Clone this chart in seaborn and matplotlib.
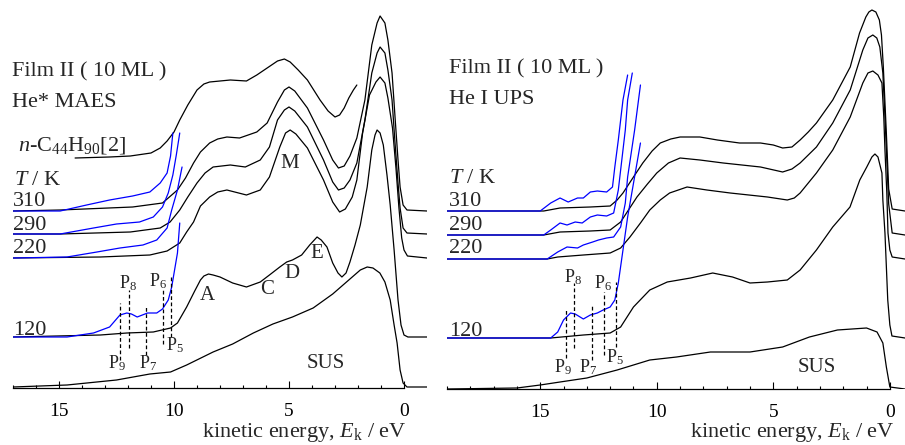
import matplotlib
matplotlib.use('Agg')
import matplotlib.pyplot as plt
from matplotlib.ticker import FixedLocator
import seaborn as sns
import pandas as pd

# ---------------- He* MAES (left panel) ----------------
# kinetic energy (eV) and intensity (arb. units, offset)
maes_c44_e = [14.3, 12.8, 11.9, 11.0, 10.6, 10.3, 10.0, 9.75, 9.4, 9.0, 8.7, 8.45, 7.55, 6.85, 6.4, 5.95, 5.5, 5.2, 4.95,
              4.6, 4.2, 3.65, 3.3, 3.0, 2.8, 2.6, 2.4, 2.2, 2.05]
maes_c44_i = [230, 231, 232, 235, 240, 247, 256, 268, 283, 298, 304, 306, 308, 307, 313, 320, 327, 329, 326,
              318, 308, 288, 277, 271, 273, 280, 290, 298, 303]

maes_310_e = [17.0, 14.95, 11.8, 10.5, 9.85, 9.5, 9.15, 8.85, 8.45, 8.1, 7.7, 7.15, 6.4, 5.95, 5.5, 5.2, 5.0, 4.75, 4.2,
              3.5, 3.1, 2.85, 2.6, 2.35, 2.05, 1.7, 1.4, 1.17, 1.04, 0.83, 0.7, 0.52, 0.39, 0.26, 0.17, 0.04, -0.13, -1.0]
maes_310_i = [177, 178, 181, 185, 198, 210, 225, 236, 245, 249, 251, 250, 256, 265, 286, 298, 301, 297, 280,
              248, 228, 220, 222, 232, 250, 288, 343, 365, 372, 365, 348, 315, 271, 228, 201, 183, 178, 177]

maes_290_e = [17.0, 14.95, 11.9, 10.6, 10.17, 9.75, 9.4, 9.0, 8.65, 8.3, 7.55, 6.9, 6.25, 5.85, 5.5, 5.2, 5.0, 4.75, 4.2,
              3.5, 3.1, 2.85, 2.6, 2.35, 2.05, 1.7, 1.4, 1.17, 1.04, 0.83, 0.7, 0.52, 0.39, 0.26, 0.17, 0.04, -0.13, -1.0]
maes_290_i = [154, 154, 156, 160, 166, 178, 191, 205, 215, 221, 223, 221, 228, 241, 268, 278, 281, 277, 261,
              228, 206, 198, 200, 208, 225, 268, 315, 335, 341, 335, 318, 288, 245, 205, 180, 160, 155, 154]

maes_220_e = [17.0, 13.2, 11.05, 10.3, 9.75, 9.45, 9.15, 8.85, 8.45, 8.1, 7.7, 6.85, 6.25, 5.85, 5.4, 5.15, 4.95, 4.7,
              4.2, 3.5, 3.1, 2.8, 2.55, 2.25, 2.05, 1.8, 1.5, 1.22, 1.04, 0.83, 0.7, 0.5, 0.35, 0.22, 0.1, 0.0,
              -0.15, -1.0]
maes_220_i = [130, 131, 133, 137, 145, 156, 166, 182, 191, 196, 198, 193, 198, 211, 241, 255, 258, 254,
              240, 208, 186, 176, 179, 191, 208, 255, 293, 306, 311, 305, 290, 260, 220, 180, 150, 138,
              132, 130]

maes_120_e = [17.0, 13.2, 12.05, 10.9, 10.15, 9.85, 9.45, 9.1, 8.85, 8.7, 8.5, 8.3, 8.0, 7.45, 6.85, 6.25, 5.85, 5.4,
              5.1, 4.85, 4.45, 4.1, 3.9, 3.78, 3.6, 3.35, 3.1, 2.87, 2.7, 2.52, 2.35, 2.13, 1.9, 1.6, 1.4, 1.26,
              1.17, 1.04, 0.9, 0.74, 0.6, 0.43, 0.26, 0.13, 0.0, -0.17, -1.0]
maes_120_i = [51, 53, 55, 56, 60, 65, 81, 97, 108, 112, 114, 113, 111, 105, 101, 106, 113, 121,
              126, 128, 133, 143, 148, 151, 148, 141, 125, 115, 111, 115, 126, 143, 163, 201, 238, 253,
              258, 255, 243, 213, 183, 138, 88, 63, 53, 51, 51]

maes_sus_e = [17.0, 14.65, 12.5, 11.05, 10.15, 9.45, 8.3, 7.45, 6.55, 5.7, 4.85, 3.95, 3.1, 2.5, 2.2, 1.9, 1.6, 1.35,
              1.05, 0.83, 0.6, 0.43, 0.3, 0.17, 0.04, -0.13, -1.0]
maes_sus_i = [1, 3, 8, 14, 16, 23, 36, 44, 55, 64, 71, 80, 94, 106, 112, 118, 121, 120,
              115, 106, 88, 63, 45, 18, 5, 1, 1]

# magnified low-energy part (blue)
maes_b310_e = [17.0, 14.95, 13.8, 12.8, 11.8, 11.05, 10.6, 10.3, 10.15, 10.05]
maes_b310_i = [177, 177, 183, 188, 192, 196, 205, 215, 232, 255]
maes_b290_e = [17.0, 14.95, 13.5, 12.5, 11.5, 10.9, 10.5, 10.25, 10.05, 9.9, 9.75]
maes_b290_i = [154, 154, 160, 164, 166, 171, 181, 195, 213, 233, 255]
maes_b220_e = [17.0, 14.65, 13.35, 12.35, 11.35, 10.75, 10.3, 10.1, 9.85, 9.65]
maes_b220_i = [130, 131, 136, 140, 143, 148, 160, 178, 198, 221]
maes_b120_e = [17.0, 14.65, 13.5, 12.8, 12.35, 12.05, 11.85, 11.6, 11.15, 10.75, 10.5, 10.25, 10.1, 9.85, 9.75]
maes_b120_i = [51, 51, 55, 61, 73, 75, 74, 71, 75, 75, 79, 88, 101, 135, 165]

# P9, P8, P7, P6, P5 markers
maes_p_e = [12.35, 11.95, 11.2, 10.5, 10.15]
maes_p_top = [85, 98, 83, 100, 111]
maes_p_bot = [28, 40, 33, 44, 51]

# ---------------- He I UPS (right panel) ----------------
ups_310_e = [19.0, 14.85, 14.15, 12.85, 12.0, 11.7, 11.45, 11.0, 10.6, 10.2, 9.85, 9.4, 9.0, 8.15, 7.4, 6.45, 5.55,
             5.0, 4.6, 4.2, 3.85, 3.5, 3.15, 2.45, 1.7, 1.3, 1.03, 0.9, 0.77, 0.6, 0.45, 0.36, 0.28, 0.15, 0.05,
             -0.1, -0.65]
ups_310_i = [178, 178, 181, 182, 183, 189, 196, 212, 226, 238, 246, 250, 252, 252, 249, 246, 246,
             244, 241, 242, 249, 257, 266, 289, 322, 356, 372, 377, 379, 377, 369, 354, 322, 256, 200,
             180, 178]

ups_290_e = [19.0, 14.85, 14.15, 12.85, 12.0, 11.55, 10.85, 10.4, 10.0, 9.5, 9.0, 8.15, 7.15, 5.55, 4.6, 4.2, 3.85,
             3.15, 2.45, 1.7, 1.16, 0.94, 0.73, 0.56, 0.43, 0.3, 0.21, 0.13, 0.05, -0.1, -0.65]
ups_290_i = [154, 154, 157, 158, 159, 167, 192, 205, 216, 226, 231, 229, 226, 222, 217, 220, 226,
             242, 266, 299, 339, 351, 354, 351, 342, 316, 272, 229, 185, 156, 154]

ups_220_e = [19.0, 14.7, 14.25, 13.15, 12.0, 11.55, 11.15, 10.7, 10.3, 9.85, 9.45, 8.7, 7.85, 6.85, 5.25, 4.4, 4.1,
             3.85, 3.15, 2.45, 1.7, 1.16, 0.94, 0.73, 0.51, 0.34, 0.26, 0.21, 0.13, 0.08, 0.0, -0.1, -0.65]
ups_220_i = [130, 130, 132, 134, 136, 141, 152, 166, 179, 189, 196, 202, 199, 196, 192, 189, 191,
             196, 216, 239, 272, 306, 316, 318, 314, 306, 272, 239, 196, 156, 139, 132, 130]

ups_120_e = [19.0, 14.55, 13.15, 12.0, 11.55, 11.0, 10.3, 9.55, 8.55, 7.6, 6.75, 6.0, 5.25, 4.4, 3.85, 3.15, 2.45,
             1.71, 1.29, 0.99, 0.77, 0.64, 0.51, 0.34, 0.3, 0.21, 0.09, 0.0, -0.09, -0.65]
ups_120_i = [51, 51, 54, 56, 62, 82, 99, 107, 111, 116, 112, 106, 107, 109, 119, 139, 162,
             182, 209, 222, 232, 235, 232, 216, 189, 156, 89, 64, 53, 51]

ups_sus_e = [19.0, 16.0, 15.0, 14.15, 13.0, 11.7, 10.3, 9.15, 7.7, 6.0, 4.6, 3.45, 2.25, 1.0, 0.55, 0.3, 0.15, 0.0, -0.65]
ups_sus_i = [0, 1, 4, 7, 11, 19, 29, 32, 37, 37, 42, 52, 59, 61, 57, 46, 22, 2, 0]

ups_b310_e = [19.0, 15.0, 14.55, 14.15, 13.8, 13.4, 13.15, 12.85, 12.55, 12.15, 11.9, 11.8, 11.65, 11.45, 11.25]
ups_b310_i = [178, 178, 186, 191, 187, 191, 191, 197, 198, 197, 202, 222, 249, 289, 314]
ups_b290_e = [19.0, 14.85, 14.55, 14.15, 13.85, 13.5, 13.2, 12.85, 12.55, 12.15, 11.85, 11.65, 11.35, 11.25, 11.05]
ups_b290_i = [154, 154, 159, 166, 164, 167, 166, 172, 174, 173, 176, 199, 259, 289, 316]
ups_b220_e = [19.0, 14.7, 14.25, 13.85, 13.4, 13.15, 12.75, 12.5, 12.15, 11.85, 11.55, 11.35, 11.25, 10.95, 10.7]
ups_b220_i = [130, 130, 137, 142, 141, 144, 147, 149, 151, 152, 162, 186, 212, 259, 304]
ups_b120_e = [19.0, 14.55, 14.25, 14.0, 13.7, 13.5, 13.15, 12.85, 12.55, 12.3, 12.0, 11.8, 11.65, 11.45, 11.25, 10.7]
ups_b120_i = [51, 51, 57, 69, 76, 75, 70, 74, 76, 79, 82, 89, 106, 139, 172, 246]

ups_p_e = [13.9, 13.55, 12.8, 12.25, 11.75]
ups_p_top = [81, 106, 85, 97, 107]
ups_p_bot = [31, 41, 29, 34, 42]

temps = ['310', '290', '220', '120']

sns.set_style('white')
plt.rcParams['font.family'] = ['Liberation Serif', 'DejaVu Serif']
plt.rcParams['mathtext.fontset'] = 'custom'
plt.rcParams['mathtext.rm'] = 'Liberation Serif'
plt.rcParams['mathtext.it'] = 'Liberation Serif:italic'


def to_frame(curves):
    rows = []
    for name, (e, i) in curves.items():
        rows += [{'curve': name, 'E': x, 'I': y} for x, y in zip(e, i)]
    return pd.DataFrame(rows)


def draw(ax, curves, color):
    sns.lineplot(data=to_frame(curves), x='E', y='I', units='curve', estimator=None,
                 sort=False, color=color, lw=0.9, ax=ax, legend=False)


def style_axis(ax, emax):
    ax.set_ylabel('')
    ax.set_xlabel('')
    ax.set_yticks([])
    for s in ['left', 'right', 'top']:
        ax.spines[s].set_visible(False)
    ax.spines['bottom'].set_bounds(0, emax)
    ax.spines['bottom'].set_linewidth(0.9)
    ax.spines['bottom'].set_color('black')
    ax.xaxis.set_major_locator(FixedLocator([0, 5, 10, 15]))
    ax.xaxis.set_minor_locator(FixedLocator(list(range(0, emax + 1))))
    ax.tick_params(axis='x', which='both', direction='in', bottom=True, colors='black', width=0.8, pad=11, labelsize=14)
    ax.tick_params(axis='x', which='major', length=5)
    ax.tick_params(axis='x', which='minor', length=2.5)
    ax.patch.set_alpha(0)


fig = plt.figure(figsize=(9.05, 4.45), dpi=100)
ax1 = fig.add_axes([13 / 905, 57 / 445, 414 / 905, 383 / 445])
ax2 = fig.add_axes([447 / 905, 56 / 445, 458 / 905, 384 / 445])

fs = 16
xlab = 'kinetic energy, $E_\\mathrm{k}$ / eV'

# ---- left panel: He* MAES ----
draw(ax1, {'c44': (maes_c44_e, maes_c44_i), '310': (maes_310_e, maes_310_i), '290': (maes_290_e, maes_290_i),
           '220': (maes_220_e, maes_220_i), '120': (maes_120_e, maes_120_i), 'SUS': (maes_sus_e, maes_sus_i)}, 'black')
draw(ax1, {'310': (maes_b310_e, maes_b310_i), '290': (maes_b290_e, maes_b290_i),
           '220': (maes_b220_e, maes_b220_i), '120': (maes_b120_e, maes_b120_i)}, '#0000ff')
ax1.vlines(maes_p_e, maes_p_bot, maes_p_top, colors='black', linestyles=(0, (3, 2)), lw=0.9)
ax1.set_xlim(17, -1)
ax1.set_ylim(0, 383)
style_axis(ax1, 17)

ax1.text(17.05, 312, 'Film II ( 10 ML )', fontsize=fs, va='baseline')
ax1.text(17.05, 281, 'He* MAES', fontsize=fs, va='baseline')
ax1.text(16.8, 237, '$n$-C$_{44}$H$_{90}$[2]', fontsize=fs, va='baseline')
ax1.text(16.95, 203, '$T$ / K', fontsize=fs, va='baseline')
for t, h in zip(temps, [182, 158, 135, 53]):
    ax1.text(17.0, h, t, fontsize=fs, va='baseline')
for lab, e, h in [('M', 4.96, 225), ('A', 8.57, 92), ('C', 5.96, 99), ('D', 4.87, 114), ('E', 3.78, 135), ('SUS', 3.39, 25)]:
    ax1.text(e, h, lab, fontsize=15, ha='center', va='center')
for lab, e, h in [('9', 12.5, 20), ('8', 12.0, 100), ('7', 11.13, 20), ('6', 10.7, 102), ('5', 9.96, 38)]:
    ax1.text(e, h, 'P$_{' + lab + '}$', fontsize=13, ha='center', va='baseline')
ax1.text(-0.13, -0.128, xlab, fontsize=fs, ha='right', va='baseline', transform=ax1.get_xaxis_transform())

# ---- right panel: He I UPS ----
draw(ax2, {'310': (ups_310_e, ups_310_i), '290': (ups_290_e, ups_290_i), '220': (ups_220_e, ups_220_i),
           '120': (ups_120_e, ups_120_i), 'SUS': (ups_sus_e, ups_sus_i)}, 'black')
draw(ax2, {'310': (ups_b310_e, ups_b310_i), '290': (ups_b290_e, ups_b290_i),
           '220': (ups_b220_e, ups_b220_i), '120': (ups_b120_e, ups_b120_i)}, '#0000ff')
ax2.vlines(ups_p_e, ups_p_bot, ups_p_top, colors='black', linestyles=(0, (3, 2)), lw=0.9)
ax2.set_xlim(19, -0.65)
ax2.set_ylim(0, 384)
style_axis(ax2, 19)

ax2.text(18.9, 316, 'Film II ( 10 ML )', fontsize=fs, va='baseline')
ax2.text(18.9, 285, 'He I UPS', fontsize=fs, va='baseline')
ax2.text(18.9, 206, '$T$ / K', fontsize=fs, va='baseline')
for t, h in zip(temps, [183, 159, 136, 53]):
    ax2.text(18.9, h, t, fontsize=fs, va='baseline')
ax2.text(3.13, 22, 'SUS', fontsize=15, ha='center', va='center')
for lab, e, h in [('9', 14.02, 17), ('8', 13.59, 107), ('7', 12.94, 17), ('6', 12.3, 101), ('5', 11.79, 27)]:
    ax2.text(e, h, 'P$_{' + lab + '}$', fontsize=13, ha='center', va='baseline')
ax2.text(-0.2, -0.125, xlab, fontsize=fs, ha='right', va='baseline', transform=ax2.get_xaxis_transform())

fig.savefig('out.png', dpi=100)
